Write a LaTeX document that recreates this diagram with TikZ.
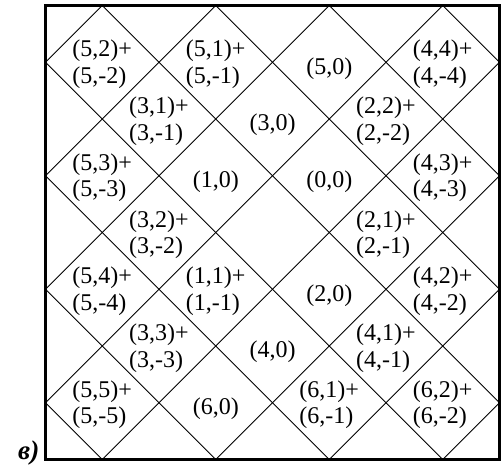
\documentclass[tikz,border=0pt]{standalone}
\usepackage{fontspec}
\setmainfont{Liberation Serif}
\begin{document}
\begin{tikzpicture}[x=1pt,y=-1pt,
  thinline/.style={line width=0.8pt},
  frame/.style={line width=3pt},
  one/.style={font=\fontsize{24}{26.5}\selectfont, inner sep=0pt, yshift=-6pt},
  two/.style={font=\fontsize{24}{26.5}\selectfont, inner sep=0pt, align=left, yshift=-2pt},
  tag/.style={font=\fontsize{27}{30}\selectfont\bfseries\itshape, inner sep=0pt, anchor=base west}]
\useasboundingbox (0,0) rectangle (504,464);
\begin{scope}[shift={(45.5,5.5)}, x=56.75pt, y=-56.75pt]
  % diagonal lines x+y=c
  \foreach \c in {1,3,5,7} {
    \draw[thinline] (0,\c) -- (\c,0);
    \draw[thinline] (\c,8) -- (8,\c);
  }
  % diagonal lines x-y=c
  \foreach \c in {1,3,5,7} {
    \pgfmathtruncatemacro{\e}{8-\c}
    \draw[thinline] (\c,0) -- (8,\e);
    \draw[thinline] (0,\c) -- (\e,8);
  }
  \draw[frame] (0,0) rectangle (8,8);
  % row 1
  \node[two] (a11) at (1,1) {(5,2)+\\(5,-2)};
  \node[two] (a31) at (3,1) {(5,1)+\\(5,-1)};
  \node[one] (a51) at (5,1) {(5,0)};
  \node[two] (a71) at (7,1) {(4,4)+\\(4,-4)};
  % row 2
  \node[two] (a22) at (2,2) {(3,1)+\\(3,-1)};
  \node[one] (a42) at (4,2) {(3,0)};
  \node[two] (a62) at (6,2) {(2,2)+\\(2,-2)};
  % row 3
  \node[two] (a13) at (1,3) {(5,3)+\\(5,-3)};
  \node[one] (a33) at (3,3) {(1,0)};
  \node[one] (a53) at (5,3) {(0,0)};
  \node[two] (a73) at (7,3) {(4,3)+\\(4,-3)};
  % row 4
  \node[two] (a24) at (2,4) {(3,2)+\\(3,-2)};
  \node[two] (a64) at (6,4) {(2,1)+\\(2,-1)};
  % row 5
  \node[two] (a15) at (1,5) {(5,4)+\\(5,-4)};
  \node[two] (a35) at (3,5) {(1,1)+\\(1,-1)};
  \node[one] (a55) at (5,5) {(2,0)};
  \node[two] (a75) at (7,5) {(4,2)+\\(4,-2)};
  % row 6
  \node[two] (a26) at (2,6) {(3,3)+\\(3,-3)};
  \node[one] (a46) at (4,6) {(4,0)};
  \node[two] (a66) at (6,6) {(4,1)+\\(4,-1)};
  % row 7
  \node[two] (a17) at (1,7) {(5,5)+\\(5,-5)};
  \node[one] (a37) at (3,7) {(6,0)};
  \node[two] (a57) at (5,7) {(6,1)+\\(6,-1)};
  \node[two] (a77) at (7,7) {(6,2)+\\(6,-2)};
\end{scope}
\node[tag] (lbl) at (18,459) {в)};
\end{tikzpicture}
\end{document}
